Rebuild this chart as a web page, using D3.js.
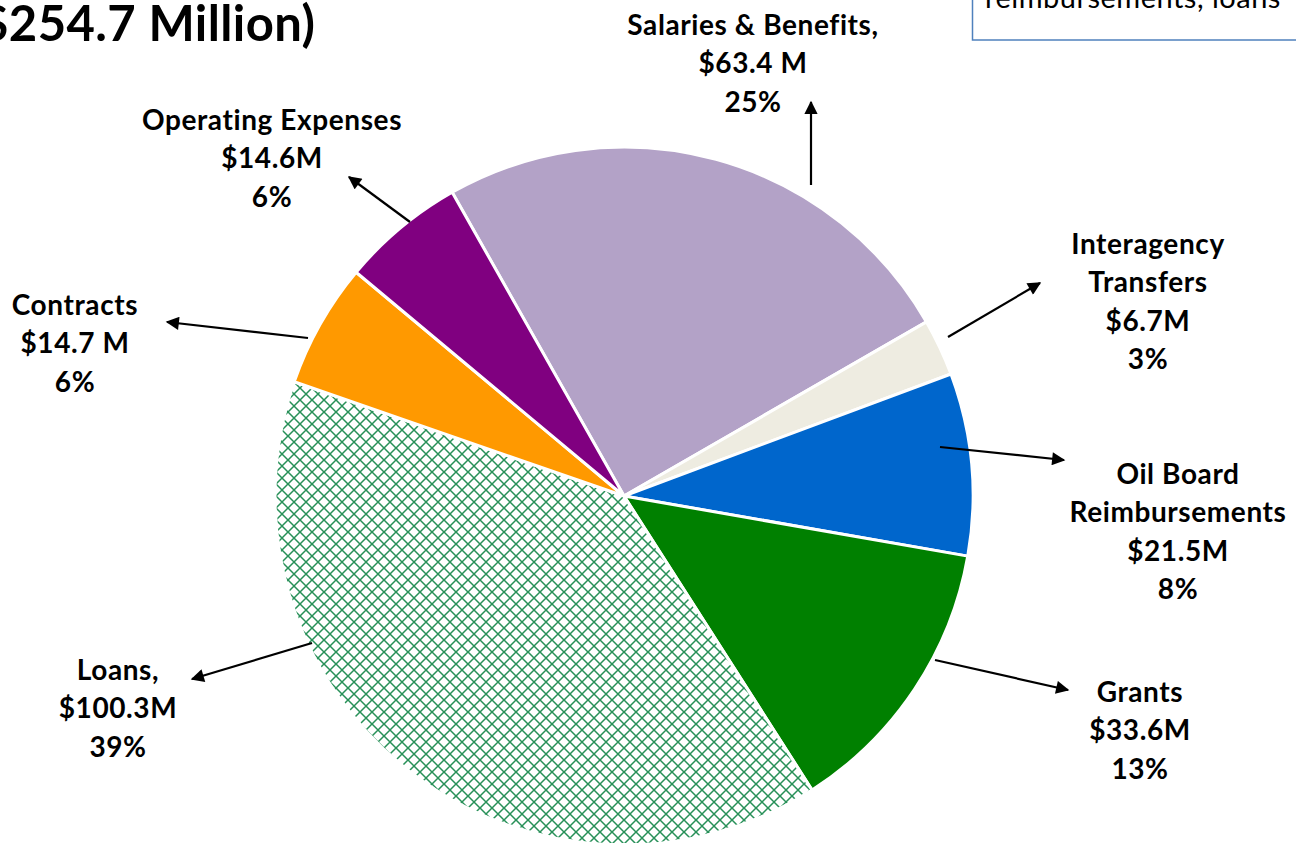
<!DOCTYPE html>
<meta charset="utf-8">
<style>

body {
  margin: 0;
  overflow: hidden;
  background: #fff;
}

text {
  font-family: Lato, "Open Sans", sans-serif;
  fill: #000;
}

.label {
  font-weight: bold;
  font-size: 28px;
  letter-spacing: 0.6px;
}

</style>
<body>
<script src="https://cdn.jsdelivr.net/npm/d3@7"></script>
<script>

var width = 1296,
    height = 843;

// spending categories, clockwise from the top
var categories = ["Salaries & Benefits", "Interagency Transfers", "Oil Board Reimbursements",
                  "Grants", "Loans", "Contracts", "Operating Expenses"];
var values = [63.4, 6.7, 21.5, 33.6, 100.3, 14.7, 14.6];
var percents = ["25%", "3%", "8%", "13%", "39%", "6%", "6%"];
var labelLines = [
  ["Salaries & Benefits,", "$63.4 M", "25%"],
  ["Interagency", "Transfers", "$6.7M", "3%"],
  ["Oil Board", "Reimbursements", "$21.5M", "8%"],
  ["Grants", "$33.6M", "13%"],
  ["Loans,", "$100.3M", "39%"],
  ["Contracts", "$14.7 M", "6%"],
  ["Operating Expenses", "$14.6M", "6%"]
];

var colors = ["#b3a2c7", "#eeece1", "#0066cc", "#008000", "url(#lattice)", "#ff9900", "#800080"];

// where each callout sits: label centre, first line y, arrow tail and head
var callouts = [
  {x: 753, y: 35,  from: [811, 185], to: [811, 102]},
  {x: 1148, y: 254, from: [948, 337], to: [1040, 283]},
  {x: 1178, y: 484, from: [940, 447], to: [1064, 460]},
  {x: 1140, y: 702, from: [935, 660], to: [1068, 690]},
  {x: 118, y: 680, from: [312, 643], to: [192, 679]},
  {x: 75,  y: 315, from: [308, 338], to: [167, 322]},
  {x: 272, y: 130, from: [410, 222], to: [349, 177]}
];

var cx = 624, cy = 496, radius = 349;

var svg = d3.select("body").append("svg")
    .attr("width", width)
    .attr("height", height);

var defs = svg.append("defs");

var pattern = defs.append("pattern")
    .attr("id", "lattice")
    .attr("patternUnits", "userSpaceOnUse")
    .attr("width", 12)
    .attr("height", 12);

pattern.append("rect")
    .attr("width", 12)
    .attr("height", 12)
    .attr("fill", "#fff");

pattern.append("path")
    .attr("d", "M0,0L12,12M12,0L0,12")
    .attr("stroke", "#279058")
    .attr("stroke-width", 1.5);

defs.append("marker")
    .attr("id", "arrow")
    .attr("viewBox", "0 0 10 10")
    .attr("refX", 9)
    .attr("refY", 5)
    .attr("markerWidth", 6.5)
    .attr("markerHeight", 6)
    .attr("markerUnits", "strokeWidth")
    .attr("orient", "auto")
  .append("path")
    .attr("d", "M0,0L10,5L0,10z")
    .attr("fill", "#000");

var pie = d3.pie()
    .sort(null)
    .startAngle(-29.5 * Math.PI / 180)
    .endAngle(-29.5 * Math.PI / 180 + 2 * Math.PI);

var arc = d3.arc()
    .innerRadius(0)
    .outerRadius(radius);

var g = svg.append("g")
    .attr("transform", "translate(" + cx + "," + cy + ")");

g.selectAll("path")
    .data(pie(values))
  .enter().append("path")
    .attr("d", arc)
    .attr("fill", function(d, i) { return colors[i]; })
    .attr("stroke", "#fff")
    .attr("stroke-width", 3)
    .attr("stroke-linejoin", "round");

svg.selectAll("line.arrow")
    .data(callouts)
  .enter().append("line")
    .attr("class", "arrow")
    .attr("x1", function(d) { return d.from[0]; })
    .attr("y1", function(d) { return d.from[1]; })
    .attr("x2", function(d) { return d.to[0]; })
    .attr("y2", function(d) { return d.to[1]; })
    .attr("stroke", "#000")
    .attr("stroke-width", 2.2)
    .attr("marker-end", "url(#arrow)");

var label = svg.selectAll("text.label")
    .data(callouts)
  .enter().append("text")
    .attr("class", "label")
    .attr("text-anchor", "middle")
    .attr("x", function(d) { return d.x; })
    .attr("y", function(d) { return d.y; });

label.selectAll("tspan")
    .data(function(d, i) { return labelLines[i]; })
  .enter().append("tspan")
    .attr("x", function() { return d3.select(this.parentNode).attr("x"); })
    .attr("dy", function(d, i) { return i ? 38.3 : 0; })
    .text(function(d) { return d; });

// title, cut off at the left edge
svg.append("text")
    .attr("x", -20)
    .attr("y", 41)
    .style("font-weight", "bold")
    .style("font-size", "49px")
    .style("letter-spacing", "0.4px")
    .text("$254.7 Million)");

// note box, cut off at the top right
svg.append("rect")
    .attr("x", 972.5)
    .attr("y", -20)
    .attr("width", 400)
    .attr("height", 60)
    .attr("fill", "#fff")
    .attr("stroke", "#4f81bd")
    .attr("stroke-width", 1.5);

svg.append("text")
    .attr("x", 985)
    .attr("y", 8)
    .style("font-size", "29px")
    .style("letter-spacing", "0.5px")
    .text("reimbursements, loans");

</script>
